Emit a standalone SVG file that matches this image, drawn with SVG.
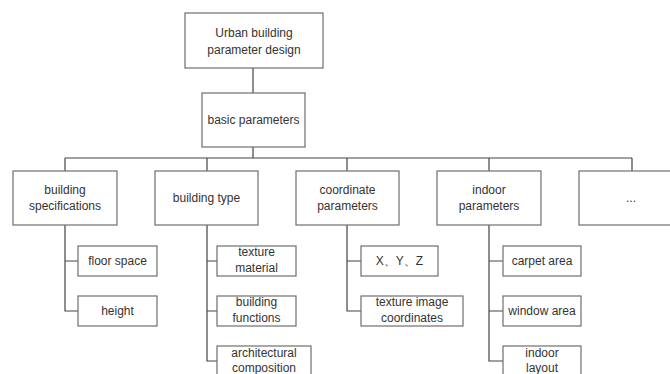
<svg xmlns="http://www.w3.org/2000/svg" width="670" height="374" viewBox="0 0 670 374">
<style>
.box{fill:#fff;stroke:#6e6e6e;stroke-width:1.2}
.t{font-family:"Liberation Sans",Arial,sans-serif;font-size:12px;fill:#333;text-anchor:middle}
.c{fill:none;stroke:#444;stroke-width:1.2}
</style>
<rect width="670" height="374" fill="#fff"/>
<g id="connectors">
<path class="c" d="M253 68V93M253 147V158M65 158H632M65 158V171M207 158V171M347 158V171M489 158V171M632 158V171"/>
<path class="c" d="M65 225V311H78M65 261H78"/>
<path class="c" d="M207 225V361H217M207 261H217M207 311H217"/>
<path class="c" d="M347 225V311H361M347 261H361"/>
<path class="c" d="M489 225V361H503M489 261H503M489 311H503"/>
</g>
<g id="root"><rect class="box" x="185" y="13" width="138" height="55"/><text class="t" x="254" y="37">Urban building</text><text class="t" x="254" y="54">parameter design</text></g>
<g id="basic"><rect class="box" x="202" y="93" width="103" height="54"/><text class="t" x="253.5" y="124">basic parameters</text></g>
<g id="spec"><rect class="box" x="13" y="171" width="104" height="54"/><text class="t" x="65" y="194">building</text><text class="t" x="65" y="210">specifications</text></g>
<g id="type"><rect class="box" x="155" y="171" width="103" height="54"/><text class="t" x="206.5" y="202">building type</text></g>
<g id="coord"><rect class="box" x="296" y="171" width="103" height="54"/><text class="t" x="347.5" y="194">coordinate</text><text class="t" x="347.5" y="210">parameters</text></g>
<g id="indoor"><rect class="box" x="437" y="171" width="104" height="54"/><text class="t" x="489" y="194">indoor</text><text class="t" x="489" y="210">parameters</text></g>
<g id="more"><rect class="box" x="579" y="171" width="104" height="54"/><text class="t" x="631" y="202">...</text></g>
<g id="floor"><rect class="box" x="78" y="246" width="79" height="30"/><text class="t" x="117.5" y="265">floor space</text></g>
<g id="height"><rect class="box" x="78" y="296" width="79" height="30"/><text class="t" x="117.5" y="315">height</text></g>
<g id="texture"><rect class="box" x="217" y="246" width="79" height="30"/><text class="t" x="256.5" y="256">texture</text><text class="t" x="256.5" y="272">material</text></g>
<g id="functions"><rect class="box" x="217" y="296" width="79" height="30"/><text class="t" x="256.5" y="306">building</text><text class="t" x="256.5" y="322">functions</text></g>
<g id="composition"><rect class="box" x="217" y="346" width="94" height="40"/><text class="t" x="264" y="357">architectural</text><text class="t" x="264" y="372">composition</text></g>
<g id="xyz"><rect class="box" x="361" y="246" width="77" height="30"/><text class="t" x="399.5" y="265">X、Y、Z</text></g>
<g id="teximg"><rect class="box" x="361" y="296" width="102" height="30"/><text class="t" x="412" y="306">texture image</text><text class="t" x="412" y="322">coordinates</text></g>
<g id="carpet"><rect class="box" x="503" y="246" width="78" height="30"/><text class="t" x="542" y="265">carpet area</text></g>
<g id="window"><rect class="box" x="503" y="296" width="78" height="30"/><text class="t" x="542" y="315">window area</text></g>
<g id="layout"><rect class="box" x="503" y="346" width="78" height="40"/><text class="t" x="542" y="357">indoor</text><text class="t" x="542" y="372">layout</text></g>
</svg>
